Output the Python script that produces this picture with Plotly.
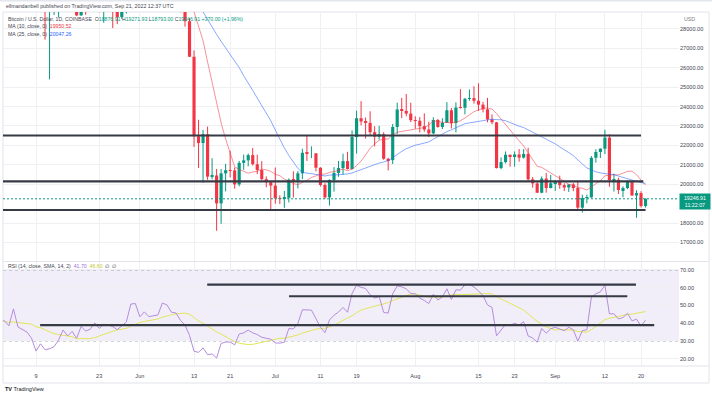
import pandas as pd
import plotly.graph_objects as go

# ---------------- data (BTC/USD daily, Coinbase, 1 May - 21 Sep 2022) ----------------
dates = pd.date_range("2022-05-01", "2022-09-21", freq="D")

opens = [37630, 38470, 38525, 37730, 39690, 36550, 36010, 35470, 34060, 30080, 31010, 28930, 29030, 29300, 30080, 31330,
         29840, 30440, 28700, 30290, 29170, 29430, 30280, 29090, 29640, 29510, 29190, 28620, 29020, 29450, 31720,
         31790, 29800, 30450, 29700, 29860, 29910, 31370, 31130, 30200, 30100, 29090, 28400, 26570, 22470, 22120,
         22580, 20390, 20450, 19010, 20560, 20720, 20710, 19990, 21100, 21230, 21500, 21030, 20730, 20260, 20100,
         19930, 19270, 19240, 19300, 20230, 20180, 20560, 21620, 21590, 21590, 20850, 19960, 19320, 20220, 20580,
         20830, 21190, 20780, 22430, 23400, 23230, 23160, 22680, 22450, 22580, 21310, 21240, 22950, 23850, 23780, 23640,
         23300, 23270, 22990, 22820, 22620, 23310, 22950, 23170, 23810, 23150, 23950, 23940, 24400, 24440, 24300,
         24100, 23860, 23340, 23190, 20830, 21140, 21520, 21400, 21530, 21370, 21560, 20250, 20040, 19560, 20290, 19800,
         20050, 20130, 19950, 19830, 19990, 19800, 18790, 19290, 19320, 21360, 21660, 21830, 22400, 20200, 20230,
         19700, 19800, 20110, 19420, 19540, 18876.91]
highs = [38675, 39165, 38640, 39980, 39845, 36650, 36130, 35500, 34240, 32650, 32190, 30030, 31080, 30350, 31450, 31330,
         30760, 30670, 30540, 30760, 29600, 30460, 30660, 29820, 30200, 29850, 29380, 29230, 29530, 32200, 32390,
         31980, 30650, 30680, 29950, 30170, 31760, 31560, 31330, 30660, 30360, 29440, 28550, 26890, 23320, 22800,
         22970, 21340, 20790, 20780, 21050, 21720, 20860, 21200, 21530, 21580, 21860, 21520, 21190, 20400, 20130,
         20860, 19430, 19650, 20300, 20660, 20680, 21830, 22500, 21950, 21600, 20870, 20050, 20250, 20880, 21200,
         21570, 21670, 22770, 23790, 24280, 23440, 23760, 22990, 23010, 22680, 21360, 23110, 24200, 24450, 24650, 24200,
         23500, 23460, 23650, 23220, 23450, 23360, 23400, 24230, 23930, 24220, 24900, 24450, 24880, 25050, 25200,
         24250, 24450, 23600, 23210, 21380, 21690, 21520, 21690, 21810, 21810, 21880, 20370, 20150, 20400, 20580, 20480,
         20200, 20440, 20050, 20000, 20060, 20180, 19460, 19460, 21450, 21800, 21850, 22800, 22580, 20540, 20330,
         19890, 20190, 20110, 19690, 19640, 19271.93]
lows = [37390, 38050, 37520, 37670, 35570, 35260, 34790, 33710, 30030, 29730, 27450, 25400, 28720, 28600, 29450, 29100,
        29450, 28660, 28680, 28730, 28940, 29230, 28860, 28320, 29300, 28050, 28250, 28510, 28800, 29300, 31210,
        29310, 29580, 29260, 29480, 29520, 29890, 29250, 29860, 30000, 28860, 28120, 26560, 21920, 20830, 20080,
        20230, 20250, 17600, 17960, 19630, 20350, 19770, 19890, 20740, 20920, 20960, 20520, 20200, 19840, 18630,
        19000, 18980, 18780, 19060, 19310, 19780, 20260, 21200, 21340, 20660, 19880, 19240, 18900, 19620, 20380,
        20500, 20760, 20760, 21580, 23030, 22350, 22530, 21950, 22300, 21260, 20710, 21040, 22590, 23400, 23500, 23200,
        22860, 22670, 22700, 22430, 22580, 22910, 22840, 23150, 22870, 22670, 23900, 23600, 24300, 24150, 23780,
        23700, 23190, 23090, 20810, 20770, 21070, 20900, 20900, 21160, 21320, 20120, 19820, 19550, 19530, 19560, 19790,
        19650, 19760, 19650, 19600, 19640, 18650, 18540, 19010, 19300, 21110, 21350, 21550, 19870, 19620, 19500,
        19330, 19750, 19390, 18270, 18800, 18793.00]
closes = [38470, 38525, 37730, 39690, 36550, 36010, 35470, 34060, 30080, 31010, 28930, 29030, 29300, 30080, 31330, 29840,
          30440, 28700, 30290, 29170, 29430, 30280, 29090, 29640, 29510, 29190, 28620, 29020, 29450, 31720, 31790,
          29800, 30450, 29700, 29860, 29910, 31370, 31130, 30200, 30100, 29090, 28400, 26570, 22470, 22120, 22580,
          20390, 20450, 19010, 20560, 20720, 20710, 19990, 21100, 21230, 21500, 21030, 20730, 20260, 20100, 19930,
          19270, 19240, 19300, 20230, 20180, 20560, 21620, 21590, 21590, 20850, 19960, 19320, 20220, 20580, 20830,
          21190, 20780, 22430, 23400, 23230, 23160, 22680, 22450, 22580, 21310, 21240, 22950, 23850, 23780, 23640, 23300,
          23270, 22990, 22820, 22620, 23310, 22950, 23170, 23810, 23150, 23950, 23940, 24400, 24440, 24300, 24100,
          23860, 23340, 23190, 20830, 21140, 21520, 21400, 21530, 21370, 21560, 20250, 20040, 19560, 20290, 19800, 20050,
          20130, 19950, 19830, 19990, 19800, 18790, 19290, 19320, 21360, 21660, 21830, 22400, 20200, 20230, 19700,
          19800, 20110, 19420, 19540, 18876.91, 19246.91]

# moving averages, values from 1 Jun onward
ma_start = "2022-06-01"
ma10 = [29780, 29920, 29920, 29960, 30030, 30310, 30520, 30590, 30430, 30160, 30020, 29630, 28910, 28140, 27400,
        26300, 25240, 24120, 23160, 22330, 21560, 20900, 20760, 20670, 20570, 20630, 20660, 20780, 20740, 20660,
        20510, 20440, 20260, 20160, 20030, 19980, 20070, 20200, 20350, 20440, 20510, 20520, 20610, 20650, 20710,
        20780, 20690, 20780, 20960, 21190, 21510, 21850, 22070, 22270, 22320, 22330, 22540, 22680, 22720, 22760, 22780,
        22840, 22890, 22920, 23050, 23250, 23250, 23180, 23190, 23140, 23200, 23270, 23410, 23570, 23740, 23820,
        23910, 23930, 23870, 23640, 23350, 23110, 22810, 22520, 22230, 21970, 21610, 21280, 20920, 20870, 20730, 20580,
        20460, 20300, 20150, 19990, 19940, 19820, 19790, 19700, 19850, 20010, 20180, 20430, 20460, 20490, 20480,
        20580, 20660, 20670, 20490, 20210, 19950.52]
ma25 = [29990, 29850, 29830, 29790, 29830, 29920, 29990, 30000, 29950, 29920, 29840, 29750, 29440, 29160, 28880,
        28490, 28140, 27720, 27360, 27020, 26700, 26340, 26010, 25590, 25180, 24830, 24440, 24060, 23670, 23270,
        22790, 22310, 21870, 21480, 21120, 20810, 20610, 20580, 20550, 20490, 20470, 20420, 20470, 20470, 20480,
        20500, 20530, 20580, 20670, 20740, 20820, 20900, 20990, 21090, 21140, 21220, 21370, 21550, 21690, 21830, 21940,
        22010, 22060, 22110, 22180, 22320, 22460, 22580, 22710, 22800, 22910, 23040, 23120, 23160, 23200, 23240,
        23290, 23320, 23350, 23330, 23320, 23270, 23170, 23080, 22990, 22920, 22800, 22680, 22550, 22460, 22320, 22200,
        22080, 21920, 21790, 21630, 21470, 21240, 21040, 20840, 20730, 20640, 20580, 20550, 20520, 20490, 20420,
        20350, 20290, 20210, 20130, 20080, 20047.26]

# RSI(14) and its SMA(14)
rsi = [41.1, 41.4, 38.5, 48.1, 37.9, 36.5, 35.0, 31.6, 24.3, 28.4, 25.1, 25.6, 26.8, 30.6, 36.2, 32.8, 35.4, 31.5,
       38.2, 35.6, 36.6, 40.2, 37.1, 39.4, 39.0, 38.1, 36.4, 38.5, 40.7, 50.8, 51.1,
       43.6, 46.4, 43.7, 44.4, 44.7, 51.4, 50.3, 46.2, 45.8, 41.6, 39.0, 33.1, 24.2, 23.6, 26.1, 22.3, 22.7, 20.4,
       28.6, 29.4, 29.4, 27.8, 33.9, 34.6, 36.1, 34.6, 33.6, 32.1, 31.6, 31.0,
       28.9, 28.8, 29.3, 37.0, 36.8, 39.9, 47.6, 47.4, 47.4, 42.6, 37.7, 34.7, 41.8, 44.5, 46.3, 48.9, 46.2, 56.7,
       61.4, 60.2, 59.6, 56.0, 54.2, 55.1, 46.1, 45.7, 56.6, 61.0, 60.5, 59.4, 56.8,
       56.5, 54.2, 52.8, 51.1, 56.3, 53.1, 54.8, 59.4, 53.4, 58.8, 58.7, 61.7, 61.9, 60.4, 58.2, 55.6, 50.3, 48.9,
       32.9, 35.9, 39.4, 38.7, 40.0, 38.9, 40.9, 32.8, 31.7, 29.3, 37.1, 34.4, 36.9,
       37.7, 36.6, 35.8, 37.7, 36.3, 29.9, 35.9, 36.3, 54.6, 56.6, 57.7, 61.4, 45.3, 45.3, 42.4, 43.2, 45.6, 41.3,
       42.3, 38.4, 41.70]
rsi_ma = [41.2, 41.1, 40.5, 40.7, 40.4, 40.2, 39.9, 39.5, 38.0, 37.5, 36.3, 35.0, 34.1, 33.6, 33.3, 32.7, 32.4, 31.3,
          31.3, 31.2, 31.3, 31.9, 32.9, 33.6, 34.6, 35.5, 36.2, 36.8, 37.1, 38.4, 39.5,
          40.4, 41.0, 41.5, 42.1, 42.4, 43.4, 44.2, 44.7, 45.3, 45.6, 45.7, 45.1, 43.2, 41.3, 40.0, 38.3, 36.8, 35.1,
          33.9, 32.4, 30.9, 29.6, 28.7, 28.2, 28.0, 28.1, 28.8, 29.4, 29.8, 30.4,
          30.9, 31.5, 31.5, 32.0, 32.6, 33.4, 34.4, 35.3, 36.1, 36.7, 37.0, 37.2, 37.9, 38.9, 40.1, 41.6, 42.8, 44.2,
          45.9, 47.4, 48.2, 48.9, 49.3, 50.2, 50.8, 51.6, 52.7, 53.8, 54.9, 55.6, 56.4,
          56.6, 55.8, 55.3, 54.7, 54.7, 54.7, 54.6, 55.6, 56.1, 56.3, 56.1, 56.2, 56.4, 56.6, 56.8, 56.9, 56.7, 56.5,
          54.9, 53.6, 52.5, 51.1, 50.1, 48.7, 47.4, 45.3, 43.2, 41.0, 39.5, 37.9, 37.0,
          36.2, 36.4, 36.4, 36.3, 36.1, 35.4, 35.2, 34.9, 36.4, 38.2, 40.3, 42.0, 42.8, 43.4, 43.7, 44.2, 44.9, 45.1,
          45.6, 46.2, 46.60]

# hand-drawn horizontal levels
price_levels = [22510, 20150, 18670]
price_level_start = "2022-04-20"
price_level_end = ["2022-09-20 00:00", "2022-09-20 12:00", "2022-09-21 00:00"]
rsi_levels = [61.7, 55.2, 38.9]
rsi_level_start = ["2022-06-15 22:00", "2022-07-04 01:00", "2022-05-09 22:00"]
rsi_level_end = ["2022-09-18 21:00", "2022-09-16 23:00", "2022-09-22 22:00"]

# axes
x_range = ["2022-05-01 16:35", "2022-09-28 09:50"]
tick_dates = ["2022-05-09", "2022-05-23", "2022-06-01", "2022-06-13", "2022-06-21", "2022-07-01", "2022-07-11",
              "2022-07-19", "2022-08-01", "2022-08-15", "2022-08-23", "2022-09-01", "2022-09-12", "2022-09-20"]
tick_text = ["9", "23", "Jun", "13", "21", "Jul", "11", "19", "Aug", "15", "23", "Sep", "12", "20"]
price_ticks = [17000, 18000, 20000, 21000, 22000, 23000, 24000, 25000, 26000, 27000, 28000]
price_range = [16041, 28876]
rsi_ticks = [20, 30, 40, 50, 60, 70]
rsi_bands = [70, 50, 30]
rsi_range = [15.9, 74.5]

# ---------------- styling ----------------
UP = "#089981"
DOWN = "#f23645"
GRID = "#eef0f4"
TXT = "#434651"
FONT = "Liberation Sans"
LINE = "#363a45"

W, H = 712, 395
ML, MR, MT, MB = 3, 33, 12, 29
PW, PH = W - ML - MR, H - MT - MB


def px(x):
    return (x - ML) / PW


def py(y):
    return (H - MB - y) / PH


fig = go.Figure()

# candle wicks
for col, is_up in ((UP, True), (DOWN, False)):
    wx, wy = [], []
    for d, o, h, l, c in zip(dates, opens, highs, lows, closes):
        if (c >= o) == is_up:
            wx += [d, d, None]
            wy += [l, h, None]
    fig.add_trace(go.Scatter(x=wx, y=wy, mode="lines", line=dict(color=col, width=1),
                             hoverinfo="skip", showlegend=False, yaxis="y"))

# candle bodies
body_base = [min(o, c) for o, c in zip(opens, closes)]
body_len = [abs(c - o) for o, c in zip(opens, closes)]
body_col = [UP if c >= o else DOWN for o, c in zip(opens, closes)]
fig.add_trace(go.Bar(x=dates, y=body_len, base=body_base, width=0.7 * 86400000,
                     marker=dict(color=body_col, line=dict(width=0)),
                     hoverinfo="skip", showlegend=False, yaxis="y"))

ma_dates = pd.date_range(ma_start, "2022-09-21", freq="D")
fig.add_trace(go.Scatter(x=ma_dates, y=ma10, mode="lines", line=dict(color="rgba(242,54,69,0.55)", width=1),
                         hoverinfo="skip", showlegend=False, yaxis="y"))
fig.add_trace(go.Scatter(x=ma_dates, y=ma25, mode="lines", line=dict(color="rgba(41,98,255,0.55)", width=1),
                         hoverinfo="skip", showlegend=False, yaxis="y"))

# horizontal levels on price pane
for lvl, end in zip(price_levels, price_level_end):
    fig.add_trace(go.Scatter(x=[price_level_start, end], y=[lvl, lvl], mode="lines",
                             line=dict(color=LINE, width=2.2), hoverinfo="skip", showlegend=False, yaxis="y"))

# last price line
fig.add_trace(go.Scatter(x=x_range, y=[closes[-1], closes[-1]], mode="lines",
                         line=dict(color=UP, width=1, dash="2px,2px"), hoverinfo="skip",
                         showlegend=False, yaxis="y"))

# RSI pane
fig.add_trace(go.Scatter(x=dates, y=rsi_ma, mode="lines", line=dict(color="#e2e65a", width=1),
                         hoverinfo="skip", showlegend=False, yaxis="y2"))
fig.add_trace(go.Scatter(x=dates, y=rsi, mode="lines", line=dict(color="#b58ddc", width=1),
                         hoverinfo="skip", showlegend=False, yaxis="y2"))
for lvl, s, e in zip(rsi_levels, rsi_level_start, rsi_level_end):
    fig.add_trace(go.Scatter(x=[s, e], y=[lvl, lvl], mode="lines",
                             line=dict(color=LINE, width=2.2), hoverinfo="skip", showlegend=False, yaxis="y2"))

shapes = [
    dict(type="rect", xref="x domain", yref="y2", x0=0, x1=1, y0=rsi_bands[2], y1=rsi_bands[0],
         fillcolor="rgba(126,87,194,0.10)", line=dict(width=0), layer="below"),
]
for b in rsi_bands:
    shapes.append(dict(type="line", xref="x domain", yref="y2", x0=0, x1=1, y0=b, y1=b,
                       line=dict(color="#a3a6af", width=1, dash="3px,3px"), layer="below"))
# frame & separators
shapes += [
    dict(type="rect", xref="paper", yref="paper", x0=px(3), x1=px(709), y0=py(383), y1=py(12),
         line=dict(color="#e0e3eb", width=1), fillcolor="rgba(0,0,0,0)", layer="below"),
    dict(type="line", xref="paper", yref="paper", x0=px(3), x1=px(709), y0=py(261.5), y1=py(261.5),
         line=dict(color="#e0e3eb", width=1)),
    dict(type="line", xref="paper", yref="paper", x0=px(3), x1=px(709), y0=py(366), y1=py(366),
         line=dict(color="#e0e3eb", width=1)),
    dict(type="rect", xref="paper", yref="paper", x0=px(0), x1=px(712), y0=py(1.5), y1=py(0),
         line=dict(width=0), fillcolor="#e3e6ec"),
]

teal = UP
ann = [
    dict(x=px(4), y=py(6.5), text="ellmandanbell published on TradingView.com, Sep 21, 2022 12:37 UTC",
         font=dict(size=5.3, color=TXT)),
    dict(x=px(6), y=py(18.7),
         text=("Bitcoin / U.S. Dollar, 1D, COINBASE  O<span style='color:%s'>%.2f</span> "
               "H<span style='color:%s'>%.2f</span> L<span style='color:%s'>%.2f</span> "
               "C<span style='color:%s'>%.2f</span> <span style='color:%s'>+370.00 (+1.96%%)</span>")
         % (teal, opens[-1], teal, highs[-1], teal, lows[-1], teal, closes[-1], teal),
         font=dict(size=5.2, color=TXT)),
    dict(x=px(6), y=py(26.3), text="MA (10, close, 0)  <span style='color:#f23645'>%.2f</span>" % ma10[-1],
         font=dict(size=5.2, color=TXT)),
    dict(x=px(6), y=py(33.7), text="MA (25, close, 0)  <span style='color:#2962ff'>%.2f</span>" % ma25[-1],
         font=dict(size=5.2, color=TXT)),
    dict(x=px(6), y=py(265.7),
         text="RSI (14, close, SMA, 14, 2)  <span style='color:#9c6fd6'>%.2f</span>  "
              "<span style='color:#c3c72a'>%.2f</span>  ∅  ∅" % (rsi[-1], rsi_ma[-1]),
         font=dict(size=5.2, color=TXT)),
    dict(x=px(682), y=py(19), text="USD", font=dict(size=5.3, color="#787b86")),
    dict(x=px(3), y=py(388.5), text="<b>TV</b> TradingView", font=dict(size=5.5, color="#131722")),
]
annotations = []
for a in ann:
    a.update(xref="paper", yref="paper", xanchor="left", yanchor="middle", showarrow=False)
    a["font"]["family"] = FONT
    annotations.append(a)
annotations.append(dict(xref="paper", yref="y", x=1.0, y=closes[-1], xanchor="left", yanchor="middle",
                        yshift=-3, showarrow=False, text="%.2f<br>11:22:07" % closes[-1],
                        bgcolor=teal, borderpad=1, width=28, align="center",
                        font=dict(family=FONT, size=5.3, color="white")))

fig.update_layout(
    width=W, height=H, margin=dict(l=ML, r=MR, t=MT, b=MB),
    paper_bgcolor="white", plot_bgcolor="white", barmode="overlay", showlegend=False,
    shapes=shapes, annotations=annotations,
    xaxis=dict(type="date", range=x_range, anchor="y2", tickmode="array", tickvals=tick_dates, ticktext=tick_text,
               showgrid=True, gridcolor=GRID, gridwidth=1, ticks="", showline=False, zeroline=False,
               tickfont=dict(family=FONT, size=5.6, color=TXT), ticklabelstandoff=5,
               rangeslider=dict(visible=False)),
    yaxis=dict(domain=[py(261), 1], range=price_range, side="right", anchor="x", tickmode="array",
               tickvals=price_ticks, tickformat=".2f", showgrid=True, gridcolor=GRID, ticks="",
               zeroline=False, showline=False, tickfont=dict(family=FONT, size=5.6, color=TXT)),
    yaxis2=dict(domain=[0, py(262)], range=rsi_range, side="right", anchor="x", tickmode="array",
                tickvals=rsi_ticks, tickformat=".2f", showgrid=True, gridcolor=GRID, ticks="",
                zeroline=False, showline=False, tickfont=dict(family=FONT, size=5.6, color=TXT)),
)

fig.write_html("out.html", config={"displayModeBar": False},
               post_script="document.body.style.margin='0px';document.body.style.overflow='hidden';")
